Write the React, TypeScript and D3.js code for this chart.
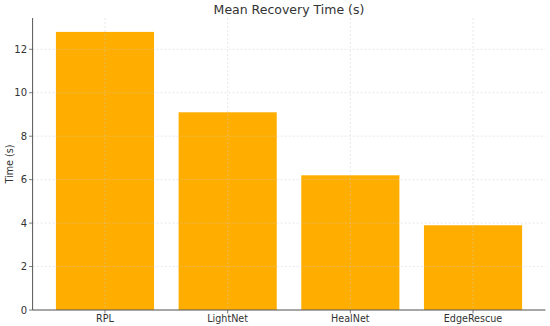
import React from "react";
import * as d3 from "d3";

const categories = ["RPL", "LightNet", "HealNet", "EdgeRescue"];
const values = [12.8, 9.1, 6.2, 3.9];
const yTicks = [0, 2, 4, 6, 8, 10, 12];

export default function App() {
  const W = 550, H = 326;
  const left = 32.6, right = 545.4, top = 18, bottom = 310;
  const x = d3.scaleLinear().domain([-0.59, 3.59]).range([left, right]);
  const y = d3.scaleLinear().domain([0, 13.44]).range([bottom, top]);
  const bw = x(0.4) - x(-0.4);
  const font = "DejaVu Sans, sans-serif";
  return (
    <svg width={W} height={H} style={{ position: "absolute", left: 0, top: 0 }} fontFamily={font}>
      <rect width={W} height={H} fill="#fff" />
      {categories.map((c, i) => (
        <rect key={c} x={x(i) - bw / 2} y={y(values[i])} width={bw} height={y(0) - y(values[i])} fill="#FFAE00" />
      ))}
      {yTicks.map(t => (
        <line key={"gy" + t} x1={left} x2={right} y1={y(t)} y2={y(t)} stroke="#c8c8c8" strokeOpacity={0.6} strokeWidth={0.7} strokeDasharray="2,2" />
      ))}
      {categories.map((c, i) => (
        <line key={"gx" + c} x1={x(i)} x2={x(i)} y1={top} y2={bottom} stroke="#c8c8c8" strokeOpacity={0.6} strokeWidth={0.7} strokeDasharray="2,2" />
      ))}
      <line x1={left} x2={left} y1={top} y2={bottom} stroke="#555" strokeWidth={1} />
      <line x1={left} x2={right} y1={bottom} y2={bottom} stroke="#555" strokeWidth={1} />
      {yTicks.map(t => (
        <g key={"ty" + t}>
          <line x1={left - 3.5} x2={left} y1={y(t)} y2={y(t)} stroke="#555" strokeWidth={0.8} />
          <text x={left - 5.5} y={y(t)} dy="0.35em" textAnchor="end" fontSize={10} fill="#333">{t}</text>
        </g>
      ))}
      {categories.map((c, i) => (
        <g key={"tx" + c}>
          <line x1={x(i)} x2={x(i)} y1={bottom} y2={bottom + 3.5} stroke="#555" strokeWidth={0.8} />
          <text x={x(i)} y={bottom + 11.5} textAnchor="middle" fontSize={9.6} fill="#333">{c}</text>
        </g>
      ))}
      <text x={(left + right) / 2} y={14} textAnchor="middle" fontSize={12.5} fill="#333">Mean Recovery Time (s)</text>
      <text transform={`translate(13,${(top + bottom) / 2}) rotate(-90)`} textAnchor="middle" fontSize={9.6} fill="#333">Time (s)</text>
    </svg>
  );
}
